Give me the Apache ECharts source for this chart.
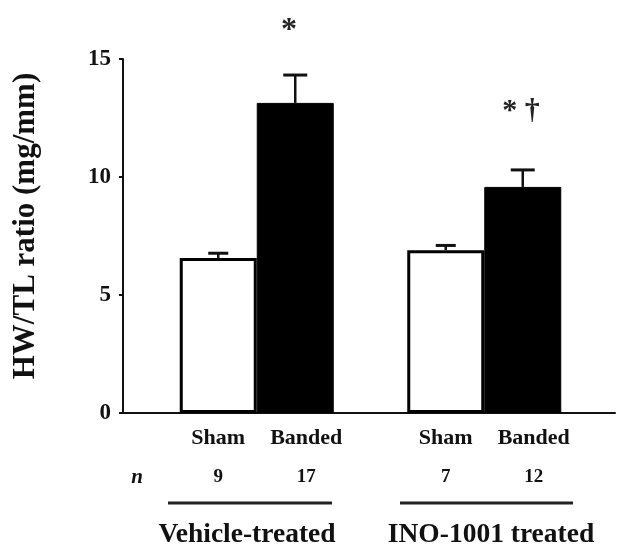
<!DOCTYPE html>
<html><head><meta charset="utf-8">
<script src="https://cdn.jsdelivr.net/npm/echarts@6.0.0/dist/echarts.min.js"></script>
<style>html,body{margin:0;padding:0;background:#fff}#c{width:618px;height:549px}</style>
</head><body><div id="c"></div>
<script>
const groups = ['Vehicle-treated', 'INO-1001 treated'];
const shamMean = [6.57, 6.9];
const shamErr = [0.2, 0.2];
const bandedMean = [13.14, 9.58];
const bandedErr = [1.18, 0.72];
const shamN = [9, 7];
const bandedN = [17, 12];
const sigMarks = ['*', '* \u2020'];
const yMin = 0, yMax = 15, yStep = 5;

const FONT = '"Liberation Serif", "DejaVu Serif", serif';
const BAR_W = 77;
const gridBox = {left: 123, top: 59, width: 492, height: 354};
const barBox = {left: 143, top: 59, width: 455, height: 354};

const chart = echarts.init(document.getElementById('c'), null, {renderer: 'canvas'});

function barLabel(names, nArr, dx) {
  return {
    show: true, position: 'bottom', distance: 12, offset: [dx, 0],
    formatter: p => '{s|' + names + '}\n{n|' + nArr[p.dataIndex] + '}',
    rich: {
      s: {fontFamily: FONT, fontWeight: 'bold', fontSize: 22, lineHeight: 26, color: '#111'},
      n: {fontFamily: FONT, fontWeight: 'bold', fontSize: 19, lineHeight: 52, color: '#111'}
    }
  };
}

const errData = groups.map((g, i) => [i, shamMean[i], shamErr[i], -1])
  .concat(groups.map((g, i) => [i, bandedMean[i], bandedErr[i], 1]));

const option = {
  animation: false,
  backgroundColor: '#fff',
  grid: [
    Object.assign({containLabel: false}, gridBox),
    Object.assign({containLabel: false}, barBox)
  ],
  xAxis: [
    {gridIndex: 0, type: 'value', min: 0, max: 1,
     axisLine: {show: true, lineStyle: {color: '#111', width: 2}},
     axisTick: {show: false}, axisLabel: {show: false}, splitLine: {show: false}},
    {gridIndex: 1, type: 'category', data: groups, show: false}
  ],
  yAxis: [
    {gridIndex: 0, type: 'value', min: yMin, max: yMax, interval: yStep,
     name: 'HW/TL ratio (mg/mm)', nameLocation: 'middle', nameRotate: 90, nameGap: 82,
     nameTextStyle: {fontFamily: FONT, fontWeight: 'bold', fontSize: 31, color: '#111', padding: [0, 0, 0, 20]},
     axisLine: {show: true, lineStyle: {color: '#111', width: 2}},
     axisTick: {show: true, length: 4, lineStyle: {color: '#111', width: 2}},
     axisLabel: {fontFamily: FONT, fontWeight: 'bold', fontSize: 23, color: '#111', margin: 12},
     splitLine: {show: false}},
    {gridIndex: 1, type: 'value', min: yMin, max: yMax, show: false}
  ],
  series: [
    {name: 'Sham', type: 'bar', xAxisIndex: 1, yAxisIndex: 1, data: shamMean,
     barWidth: BAR_W, barGap: '0%',
     itemStyle: {color: '#fff', borderColor: '#000', borderWidth: 3},
     label: barLabel('Sham', shamN, 0)},
    {name: 'Banded', type: 'bar', xAxisIndex: 1, yAxisIndex: 1, data: bandedMean,
     barWidth: BAR_W, barGap: '0%',
     itemStyle: {color: '#000', borderColor: '#000', borderWidth: 1},
     label: barLabel('Banded', bandedN, 11)},
    {type: 'custom', xAxisIndex: 1, yAxisIndex: 1, z: 5, data: errData,
     renderItem: (params, api) => {
       const top = api.coord([api.value(0), api.value(1) + api.value(2)]);
       const base = api.coord([api.value(0), api.value(1)]);
       const x = top[0] + api.value(3) * BAR_W / 2;
       const cap = api.value(3) < 0 ? 20 : 24;
       return {type: 'group', children: [
         {type: 'line', shape: {x1: x, y1: base[1], x2: x, y2: top[1]}, style: {stroke: '#111', lineWidth: 2.5}},
         {type: 'line', shape: {x1: x - cap / 2, y1: top[1], x2: x + cap / 2, y2: top[1]}, style: {stroke: '#111', lineWidth: 3}}
       ]};
     }}
  ],
  graphic: [
    {type: 'text', x: 137, y: 478, style: {text: 'n', font: 'italic bold 21px ' + FONT, fill: '#111', align: 'center', verticalAlign: 'middle'}},
    {type: 'line', shape: {x1: 168, y1: 503, x2: 332, y2: 503}, style: {stroke: '#222', lineWidth: 3}},
    {type: 'line', shape: {x1: 400, y1: 503, x2: 573, y2: 503}, style: {stroke: '#222', lineWidth: 3}},
    {type: 'text', x: 247, y: 535, style: {text: groups[0], font: 'bold 27.5px ' + FONT, fill: '#111', align: 'center', verticalAlign: 'middle'}},
    {type: 'text', x: 491, y: 535, style: {text: groups[1], font: 'bold 27.5px ' + FONT, fill: '#111', align: 'center', verticalAlign: 'middle'}},
    {type: 'text', x: 289, y: 31, style: {text: sigMarks[0], font: 'bold 32px ' + FONT, fill: '#222', align: 'center', verticalAlign: 'middle'}},
    {type: 'text', x: 521, y: 111, style: {text: sigMarks[1], font: 'bold 30px ' + FONT, fill: '#222', align: 'center', verticalAlign: 'middle'}}
  ]
};
chart.setOption(option);
</script>
</body></html>
